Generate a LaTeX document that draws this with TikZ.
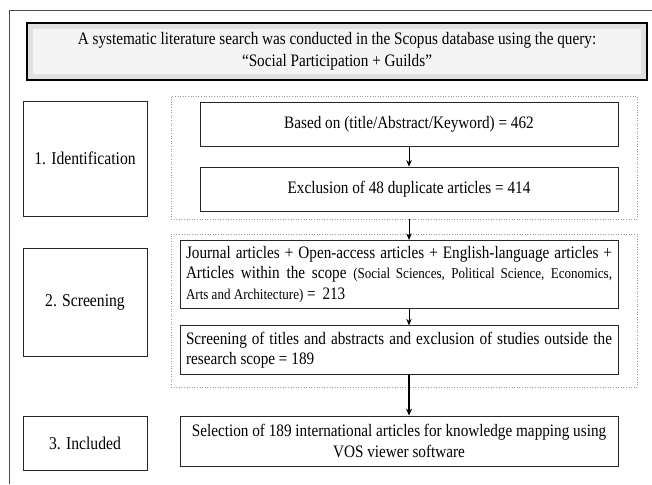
\documentclass[tikz,border=0pt]{standalone}
\usepackage{fontspec}
\setmainfont{Liberation Serif}[FakeStretch=0.87]
\usetikzlibrary{arrows.meta,positioning,calc}

\begin{document}
\begin{tikzpicture}[x=1pt, y=-1pt,
  phase/.style={draw=black!85, fill=white, rectangle, line width=0.8pt,
    minimum width=124pt, align=center, font=\fontsize{18}{21}\selectfont},
  stepbox/.style={draw=black!85, fill=white, rectangle, line width=0.8pt,
    minimum width=418pt, minimum height=44pt, align=center,
    font=\fontsize{17.5}{21}\selectfont},
  textbox/.style={draw=black!85, fill=white, rectangle, line width=0.8pt,
    text width=426pt, inner sep=6pt, align=justify,
    font=\fontsize{17.5}{20.5}\selectfont},
  stagebox/.style={draw=gray!80, dotted, rectangle, line width=0.6pt,
    minimum width=466pt, inner sep=0pt},
  titlebox/.style={draw=black, fill=gray!24, rectangle, line width=1.2pt,
    minimum width=620pt, minimum height=57pt, align=center,
    font=\fontsize{17.5}{22}\selectfont,
    path picture={\fill[gray!9]
      ([shift={(6pt,-6pt)}]path picture bounding box.north west) rectangle
      ([shift={(-6pt,6pt)}]path picture bounding box.south east);}},
  ar/.style={-{Stealth[length=6.5pt,width=5.5pt]}, line width=0.9pt},
  bar/.style={-{Stealth[length=7pt,width=6pt]}, line width=1.6pt},
]

\useasboundingbox (0,0) rectangle (652,484);

% Rahmen (nur oben und links sichtbar)
\coordinate (fbl) at (9,484);
\coordinate (ftl) at (9,10);
\coordinate (ftr) at (652,10);
\draw[black!70, line width=0.8pt] (fbl) -- (ftl) -- (ftr);

%── Suchanfrage ───────────────────────────────────────────────────────────────

\node[titlebox] (query) at (337,51.5)
  {A systematic literature search was conducted in the Scopus database using the query:\\
   “Social Participation + Guilds”};

%── 1. Identification ─────────────────────────────────────────────────────────

\node[stagebox, minimum height=123pt] (ident) at (404,157.5) {};
\node[phase, minimum height=115pt] (identlab) at (85,158.5) {1. Identification};

\node[stepbox] (based) at (409,124) {Based on (title/Abstract/Keyword) = 462};
\node[stepbox] (dupl)  at (409,189) {Exclusion of 48 duplicate articles = 414};

\draw[ar] (based) -- (dupl);

%── 2. Screening ──────────────────────────────────────────────────────────────

\node[stagebox, minimum height=153pt] (screen) at (404,310.5) {};
\node[phase, minimum height=108pt] (screenlab) at (85,302) {2. Screening};

\node[textbox, minimum height=65pt] (filter) at (399,274.5)
  {Journal articles + Open-access articles + English-language articles +\linebreak
   Articles within the scope {\fontsize{15}{20.5}\selectfont (Social Sciences, Political Science, Economics,\linebreak
   Arts and Architecture)} = \,213};
\node[textbox, minimum height=46pt] (titles) at (399,350)
  {Screening of titles and abstracts and exclusion of studies outside the\linebreak
   research scope = 189};

\draw[ar] (based.south |- ident.south) -- (based.south |- filter.north);
\draw[ar] (based.south |- filter.south) -- (based.south |- titles.north);

%── 3. Included ───────────────────────────────────────────────────────────────

\node[phase, minimum height=54pt] (incllab) at (85,443) {3. Included};
\node[stepbox, minimum width=438pt, minimum height=50pt] (select) at (399,441)
  {Selection of 189 international articles for knowledge mapping using\\
   VOS viewer software};

\draw[bar] (based.south |- titles.south) -- (based.south |- select.north);

\end{tikzpicture}
\end{document}
